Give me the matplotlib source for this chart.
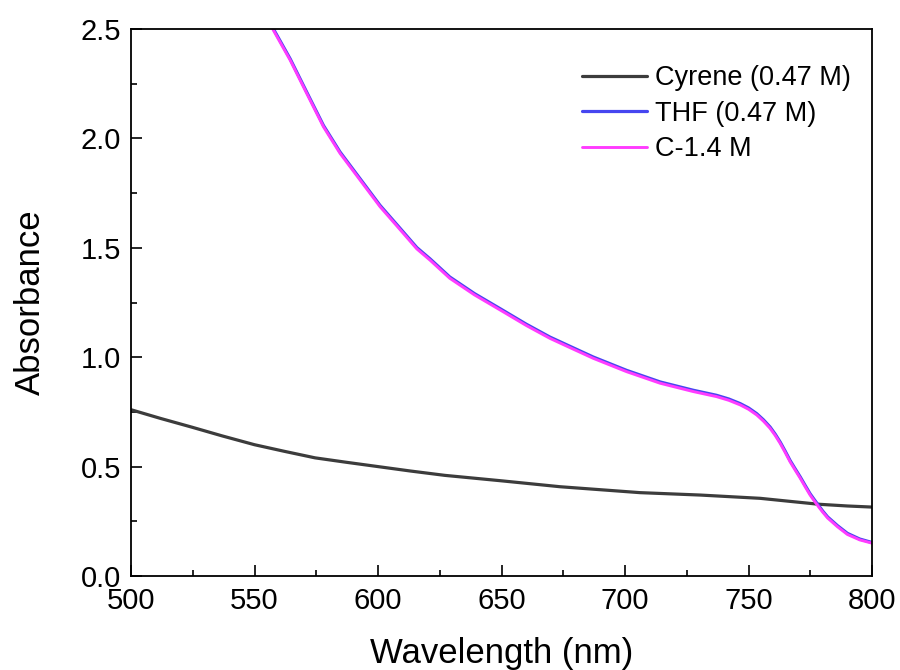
import matplotlib
matplotlib.use("Agg")
import matplotlib.pyplot as plt
from matplotlib.ticker import MultipleLocator, FormatStrFormatter

# 吸收光譜資料
cyrene_nm = [500, 512, 524.7, 537, 550, 562, 574.5, 587, 600, 613, 627, 650,
             673.7, 706, 730.4, 754.7, 766, 778.3, 790, 800]
cyrene_abs = [0.76, 0.72, 0.68, 0.64, 0.60, 0.57, 0.54, 0.52, 0.50, 0.48, 0.46,
              0.435, 0.408, 0.381, 0.370, 0.355, 0.342, 0.328, 0.32, 0.315]

c14_nm = [555, 557.6, 564.4, 571.1, 577.9, 584.6, 592.7, 600.8, 608, 615.7,
          621, 629, 639, 649.4, 660, 669.6, 679, 687.1, 700.6, 714.2, 727.6,
          737, 742, 746.6, 750, 753.3, 756, 758.7, 760.8, 762.8, 764.8, 766.8,
          768.8, 770.9, 772.9, 774.9, 776.6, 778.3, 780, 782, 786, 790, 795, 800]
c14_abs = [2.56, 2.495, 2.358, 2.206, 2.053, 1.932, 1.810, 1.688, 1.595, 1.495,
           1.444, 1.361, 1.285, 1.216, 1.145, 1.086, 1.037, 0.995, 0.934, 0.881,
           0.843, 0.820, 0.803, 0.782, 0.762, 0.736, 0.708, 0.675, 0.642, 0.606,
           0.565, 0.522, 0.485, 0.447, 0.408, 0.370, 0.343, 0.317, 0.292, 0.265,
           0.225, 0.19, 0.165, 0.15]

thf_nm = c14_nm
thf_abs = [2.566, 2.501, 2.364, 2.212, 2.059, 1.938, 1.816, 1.694, 1.601, 1.501,
           1.450, 1.367, 1.291, 1.222, 1.151, 1.092, 1.043, 1.001, 0.940, 0.887,
           0.849, 0.826, 0.809, 0.788, 0.768, 0.742, 0.714, 0.681, 0.648, 0.612,
           0.571, 0.528, 0.491, 0.453, 0.414, 0.376, 0.349, 0.323, 0.297, 0.270,
           0.230, 0.195, 0.169, 0.153]

plt.rcParams['font.family'] = ['Liberation Sans', 'DejaVu Sans']

fig = plt.figure(figsize=(9, 6.7), dpi=100)
ax = fig.add_axes([0.1456, 0.1403, 0.8234, 0.8164])

kw = dict(solid_joinstyle="round", solid_capstyle="round")
ax.plot(cyrene_nm, cyrene_abs, color="#3c3c3c", lw=2.3, label="Cyrene (0.47 M)", **kw)
ax.plot(thf_nm, thf_abs, color="#4646f0", lw=2.3, label="THF (0.47 M)", **kw)
ax.plot(c14_nm, c14_abs, color="#ff3cff", lw=2.1, label="C-1.4 M", **kw)

ax.set_xlim(500, 800)
ax.set_ylim(0, 2.5)
ax.xaxis.set_major_locator(MultipleLocator(50))
ax.xaxis.set_minor_locator(MultipleLocator(25))
ax.yaxis.set_major_locator(MultipleLocator(0.5))
ax.yaxis.set_minor_locator(MultipleLocator(0.25))
ax.yaxis.set_major_formatter(FormatStrFormatter('%.1f'))
ax.tick_params(which="both", direction="in", top=False, right=False,
               width=1.2, labelsize=21)
ax.tick_params(axis="x", pad=8)
ax.tick_params(axis="y", pad=7)
ax.tick_params(which="major", length=8)
ax.tick_params(which="minor", length=4.5)
for s in ax.spines.values():
    s.set_linewidth(1.3)

ax.set_xlabel("Wavelength (nm)", fontsize=25)
ax.set_ylabel("Absorbance", fontsize=25)
ax.xaxis.set_label_coords(0.5, -0.112)
ax.yaxis.set_label_coords(-0.113, 0.5)

ax.legend(loc="upper right", bbox_to_anchor=(1.004, 0.978), frameon=False,
          fontsize=19.5, handlelength=2.4, handletextpad=0.3, labelspacing=0.35)

fig.savefig("out.png", dpi=100)
